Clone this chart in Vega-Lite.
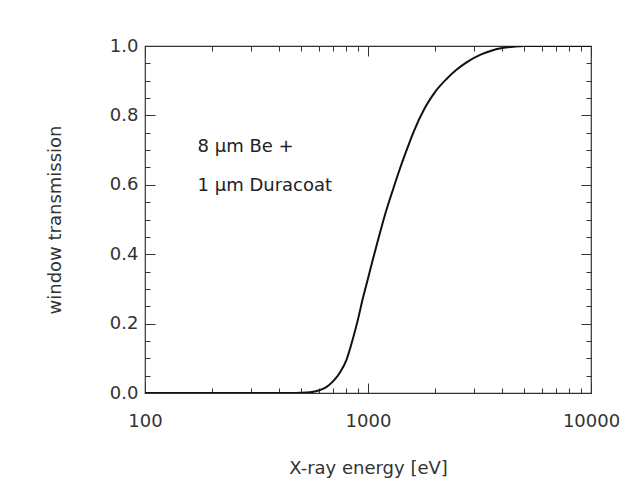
{
  "$schema": "https://vega.github.io/schema/vega-lite/v6.json",
  "width": 446,
  "height": 347,
  "autosize": "none",
  "padding": {"left": 145, "top": 46, "right": 46, "bottom": 100},
  "background": "white",
  "config": {
    "view": {"stroke": "#333333", "strokeWidth": 1.2},
    "font": "DejaVu Sans",
    "axis": {
      "grid": false,
      "domain": false,
      "tickColor": "#333333",
      "tickWidth": 1,
      "labelColor": "#333333",
      "labelFontSize": 18,
      "labelFont": "DejaVu Sans",
      "titleColor": "#333333",
      "titleFont": "DejaVu Sans",
      "titleFontSize": 18,
      "titleFontWeight": "normal",
      "labelOverlap": false,
      "labelBound": false,
      "labelFlush": false
    }
  },
  "datasets": {
    "curve": [
      {"E": 100, "T": 0}, {"E": 200, "T": 0}, {"E": 300, "T": 0}, {"E": 400, "T": 0},
      {"E": 450, "T": 0}, {"E": 500, "T": 0.0005}, {"E": 550, "T": 0.002}, {"E": 600, "T": 0.007},
      {"E": 650, "T": 0.017}, {"E": 700, "T": 0.035}, {"E": 750, "T": 0.06}, {"E": 800, "T": 0.095},
      {"E": 850, "T": 0.15}, {"E": 900, "T": 0.21}, {"E": 950, "T": 0.275}, {"E": 1000, "T": 0.33},
      {"E": 1050, "T": 0.383}, {"E": 1100, "T": 0.432}, {"E": 1200, "T": 0.52}, {"E": 1300, "T": 0.59},
      {"E": 1400, "T": 0.652}, {"E": 1500, "T": 0.705}, {"E": 1600, "T": 0.752}, {"E": 1800, "T": 0.822},
      {"E": 2000, "T": 0.868}, {"E": 2250, "T": 0.905}, {"E": 2500, "T": 0.932}, {"E": 2800, "T": 0.955},
      {"E": 3200, "T": 0.975}, {"E": 3600, "T": 0.987}, {"E": 4000, "T": 0.994}, {"E": 4500, "T": 0.998},
      {"E": 5000, "T": 1.0}, {"E": 7000, "T": 1.0}, {"E": 10000, "T": 1.0}
    ],
    "notes": [
      {"E": 172, "T": 0.71, "label": "8 μm Be +"},
      {"E": 172, "T": 0.597, "label": "1 μm Duracoat"}
    ]
  },
  "layer": [
    {
      "data": {"name": "curve"},
      "mark": {"type": "line", "color": "#111111", "strokeWidth": 2, "interpolate": "monotone", "clip": true},
      "encoding": {
        "x": {
          "field": "E", "type": "quantitative",
          "scale": {"type": "log", "domain": [100, 10000], "nice": false},
          "axis": {
            "orient": "bottom",
            "title": "X-ray energy [eV]",
            "values": [100, 200, 300, 400, 500, 600, 700, 800, 900, 1000, 2000, 3000, 4000, 5000, 6000, 7000, 8000, 9000, 10000],
            "labelExpr": "indexof([100, 1000, 10000], datum.value) >= 0 ? '' + datum.value : ''",
            "tickSize": {"condition": {"test": "indexof([100, 1000, 10000], datum.value) >= 0", "value": -10}, "value": -5},
            "labelPadding": 29,
            "titlePadding": 24
          }
        },
        "y": {
          "field": "T", "type": "quantitative",
          "scale": {"domain": [0, 1], "nice": false, "zero": false},
          "axis": {
            "orient": "left",
            "title": "window transmission",
            "values": [0, 0.05, 0.1, 0.15, 0.2, 0.25, 0.3, 0.35, 0.4, 0.45, 0.5, 0.55, 0.6, 0.65, 0.7, 0.75, 0.8, 0.85, 0.9, 0.95, 1.0],
            "format": ".1f",
            "labelExpr": "abs(datum.value * 5 - round(datum.value * 5)) < 0.001 ? datum.label : ''",
            "tickSize": {"condition": {"test": "abs(datum.value * 5 - round(datum.value * 5)) < 0.001", "value": -10}, "value": -5},
            "labelPadding": 17,
            "titlePadding": 45
          }
        }
      }
    },
    {
      "data": {"name": "notes"},
      "mark": {"type": "text", "align": "left", "baseline": "middle", "fontSize": 18, "font": "DejaVu Sans", "color": "#222222"},
      "encoding": {
        "x": {
          "field": "E", "type": "quantitative",
          "scale": {"type": "log", "domain": [100, 10000], "nice": false},
          "axis": {
            "orient": "top",
            "title": null,
            "labels": false,
            "values": [100, 200, 300, 400, 500, 600, 700, 800, 900, 1000, 2000, 3000, 4000, 5000, 6000, 7000, 8000, 9000, 10000],
            "tickSize": {"condition": {"test": "indexof([100, 1000, 10000], datum.value) >= 0", "value": -10}, "value": -5}
          }
        },
        "y": {
          "field": "T", "type": "quantitative",
          "scale": {"domain": [0, 1], "nice": false, "zero": false},
          "axis": {
            "orient": "right",
            "title": null,
            "labels": false,
            "values": [0, 0.05, 0.1, 0.15, 0.2, 0.25, 0.3, 0.35, 0.4, 0.45, 0.5, 0.55, 0.6, 0.65, 0.7, 0.75, 0.8, 0.85, 0.9, 0.95, 1.0],
            "tickSize": {"condition": {"test": "abs(datum.value * 5 - round(datum.value * 5)) < 0.001", "value": -10}, "value": -5}
          }
        },
        "text": {"field": "label", "type": "nominal"}
      }
    }
  ],
  "resolve": {"axis": {"x": "independent", "y": "independent"}}
}
